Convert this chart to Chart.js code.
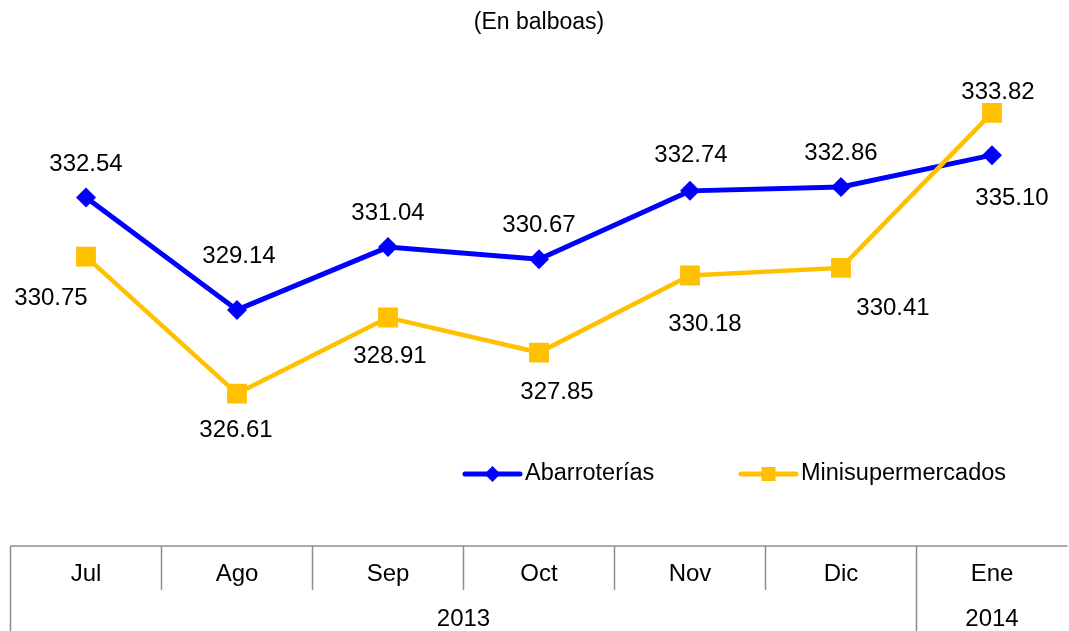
<!DOCTYPE html>
<html>
<head>
<meta charset="utf-8">
<script src="https://cdn.jsdelivr.net/npm/chart.js@4.4.0/dist/chart.umd.min.js"></script>
<style>
  html, body { margin: 0; padding: 0; background: #fff; }
  #wrap { width: 1069px; height: 631px; }
</style>
</head>
<body>
<div id="wrap"><canvas id="chart"></canvas></div>
<script>
const months = ['Jul', 'Ago', 'Sep', 'Oct', 'Nov', 'Dic', 'Ene']
const years = ['2013', '2014']
const yearSpans = [6, 1]
const abarroterias = [332.54, 329.14, 331.04, 330.67, 332.74, 332.86, 333.82]
const minisuper = [330.75, 326.61, 328.91, 327.85, 330.18, 330.41, 335.10]

const FONT = '"Liberation Sans", Arial, sans-serif'
const GRID = '#8c8c8c'

// where each value label sits relative to its point (px)
const labelOffsets = [
    [[0, -33], [2, -54], [0, -34], [0, -34], [1, -35], [0, -34], [6, -63]],
    [[-35, 42], [-1, 37], [2, 39], [18, 40], [15, 49], [52, 40], [20, 86]],
]

const valueLabels = {
    id: 'valueLabels',
    afterDatasetsDraw(chart) {
        const ctx = chart.ctx
        ctx.save()
        ctx.font = `24px ${FONT}`
        ctx.fillStyle = '#000'
        ctx.textAlign = 'center'
        ctx.textBaseline = 'middle'
        chart.data.datasets.forEach((ds, i) => {
            chart.getDatasetMeta(i).data.forEach((pt, j) => {
                const [dx, dy] = labelOffsets[i][j]
                ctx.fillText(ds.data[j].toFixed(2), pt.x + dx, pt.y + dy)
            })
        })
        ctx.restore()
    }
}

// legend drawn inside the plot, under the lines
const legendBox = {
    id: 'legendBox',
    afterDraw(chart) {
        const ctx = chart.ctx
        const y = 474
        const starts = [465, 741]
        chart.data.datasets.forEach((ds, i) => {
            const x = starts[i]
            const cx = x + 27.5
            ctx.save()
            ctx.strokeStyle = ds.borderColor
            ctx.fillStyle = ds.borderColor
            ctx.lineWidth = 5
            ctx.lineCap = 'round'
            ctx.beginPath()
            ctx.moveTo(x, y)
            ctx.lineTo(x + 55, y)
            ctx.stroke()
            ctx.beginPath()
            if (ds.pointStyle === 'rectRot') {
                const r = 8
                ctx.moveTo(cx, y - r)
                ctx.lineTo(cx + r, y)
                ctx.lineTo(cx, y + r)
                ctx.lineTo(cx - r, y)
                ctx.closePath()
                ctx.fill()
            } else {
                ctx.fillRect(cx - 7, y - 7, 14, 14)
            }
            ctx.font = `23.5px ${FONT}`
            ctx.fillStyle = '#000'
            ctx.textAlign = 'left'
            ctx.textBaseline = 'middle'
            ctx.fillText(ds.label, x + 60, y)
            ctx.restore()
        })
    }
}

// two-row category table under the plot (months, then years)
const categoryTable = {
    id: 'categoryTable',
    afterDraw(chart) {
        const xs = chart.scales.x
        const ctx = chart.ctx
        const top = xs.top
        const mid = 590
        const bottom = chart.height
        const edge = i => {
            if (i === 0) return xs.left
            if (i === months.length) return xs.right
            return (xs.getPixelForValue(i - 1) + xs.getPixelForValue(i)) / 2
        }
        const line = (x1, y1, x2, y2) => {
            ctx.beginPath()
            ctx.moveTo(x1, y1)
            ctx.lineTo(x2, y2)
            ctx.stroke()
        }
        const yearEdges = [0]
        let k = 0
        yearSpans.forEach(s => { k += s; yearEdges.push(k) })

        ctx.save()
        ctx.strokeStyle = GRID
        ctx.lineWidth = 1.5
        line(xs.left, top, xs.right, top)
        for (let i = 0; i < months.length; i++) {
            const full = yearEdges.includes(i)
            line(edge(i), top, edge(i), full ? bottom : mid)
        }
        ctx.font = `24px ${FONT}`
        ctx.fillStyle = '#000'
        ctx.textAlign = 'center'
        ctx.textBaseline = 'middle'
        years.forEach((yr, i) => {
            const cx = (edge(yearEdges[i]) + edge(yearEdges[i + 1])) / 2
            ctx.fillText(yr, cx, 619)
        })
        ctx.restore()
    }
}

new Chart(document.getElementById('chart'), {
    type: 'line',
    data: {
        labels: months,
        datasets: [
            {
                label: 'Abarroterías',
                data: abarroterias,
                borderColor: '#0000FF',
                backgroundColor: '#0000FF',
                borderWidth: 5,
                pointStyle: 'rectRot',
                pointRadius: 10,
                pointBorderWidth: 0,
                order: 1,
            },
            {
                label: 'Minisupermercados',
                data: minisuper,
                borderColor: '#FFC000',
                backgroundColor: '#FFC000',
                borderWidth: 4.5,
                pointStyle: 'rect',
                pointRadius: 14,
                pointBorderWidth: 0,
                order: 0,
            },
        ],
    },
    options: {
        responsive: true,
        maintainAspectRatio: false,
        animation: false,
        layout: { autoPadding: false, padding: { left: 10.5, right: 1.5 } },
        plugins: {
            legend: { display: false },
            tooltip: { enabled: false },
            title: {
                display: true,
                text: '(En balboas)',
                color: '#000',
                font: { family: FONT, size: 23, weight: 'normal' },
                padding: { top: 9, bottom: 13.4 },
            },
        },
        scales: {
            x: {
                offset: true,
                grid: { display: false, drawTicks: false },
                border: { display: false },
                ticks: {
                    color: '#000',
                    font: { family: FONT, size: 24 },
                    padding: 14,
                    maxRotation: 0,
                    autoSkip: false,
                },
                afterFit(scale) {
                    scale.height = 85
                    scale.paddingLeft = 0
                    scale.paddingRight = 0
                },
            },
            y: {
                display: false,
                min: 322,
                max: 337,
            },
        },
    },
    plugins: [valueLabels, legendBox, categoryTable],
})
</script>
</body>
</html>
